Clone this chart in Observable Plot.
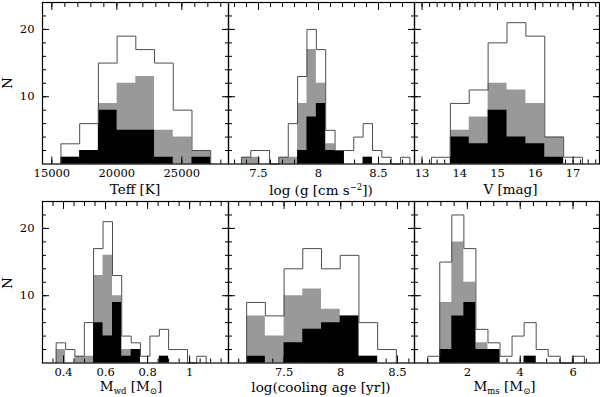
<!DOCTYPE html>
<html><head><meta charset="utf-8">
<script src="https://cdn.jsdelivr.net/npm/d3@7"></script>
<script src="https://cdn.jsdelivr.net/npm/@observablehq/plot@0.6"></script>
<style>
body{margin:0;background:#fff;}
#chart{position:relative;width:600px;height:397px;overflow:hidden;font-family:"DejaVu Serif",serif;color:#000;background:#fff;}
.ttl{position:absolute;transform:translate(-50%,-50%);font-size:13.5px;white-space:nowrap;line-height:1;}
.ttl sub{font-size:8.5px;vertical-align:-3px;}
.ttl sup{font-size:8.5px;vertical-align:5px;}
.nlab{position:absolute;transform:translate(-50%,-50%) rotate(-90deg);font-size:13.5px;line-height:1;}
</style></head><body><div id="chart"></div>
<script>
// ---- data ----
const teffEdges = [15700, 17140, 18580, 20020, 21460, 22900, 24340, 25780, 27220];
const teffAll   = [3, 6, 15, 19, 17, 15, 8, 2];
const teffGray  = [1, 2, 9, 12, 13, 5, 4, 2];
const teffBlack = [1, 2, 8, 5, 5, 1, 0, 1];
const teffTicks = [15000, 20000, 25000];

const loggEdges = [7.358, 7.436, 7.514, 7.592, 7.670, 7.748, 7.826, 7.904, 7.982, 8.060, 8.138, 8.216, 8.294, 8.372, 8.450, 8.528, 8.606, 8.684, 8.762];
const loggAll   = [1, 2, 2, 0, 1, 6, 13, 20, 17, 5, 2, 2, 4, 6, 2, 1, 0, 1];
const loggGray  = [1, 1, 0, 0, 1, 1, 9, 17, 12, 3, 2, 0, 0, 1, 0, 0, 0, 0];
const loggBlack = [0, 0, 0, 0, 0, 0, 2, 7, 9, 2, 2, 0, 0, 1, 0, 0, 0, 0];
const loggTicks = [7.5, 8, 8.5];

const vEdges = [13.25, 13.75, 14.25, 14.75, 15.25, 15.75, 16.25, 16.75, 17.25];
const vAll   = [1, 9, 11, 18, 21, 19, 4, 1];
const vGray  = [0, 5, 7, 12, 11, 9, 4, 0];
const vBlack = [0, 4, 3, 8, 4, 3, 1, 0];
const vTicks = [13, 14, 15, 16, 17];

const mwdEdges = [0.365, 0.410, 0.454, 0.499, 0.543, 0.588, 0.633, 0.677, 0.722, 0.766, 0.811, 0.856, 0.900, 0.945, 0.990, 1.034, 1.079];
const mwdAll   = [3, 2, 1, 6, 17, 21, 13, 4, 3, 1, 4, 5, 2, 2, 0, 1];
const mwdGray  = [2, 0, 1, 1, 13, 16, 10, 2, 2, 0, 0, 1, 0, 0, 0, 0];
const mwdBlack = [0, 0, 0, 0, 6, 4, 9, 1, 2, 0, 0, 1, 0, 0, 0, 0];
const mwdTicks = [0.4, 0.6, 0.8, 1];

const ageEdges = [7.17, 7.335, 7.5, 7.665, 7.83, 7.995, 8.16, 8.325, 8.49];
const ageAll   = [9, 7, 14, 17, 14, 16, 6, 2];
const ageGray  = [7, 4, 10, 11, 8, 7, 1, 0];
const ageBlack = [1, 0, 3, 5, 6, 7, 1, 0];
const ageTicks = [7.5, 8, 8.5];

const mmsEdges = [0.5, 0.956, 1.412, 1.868, 2.324, 2.78, 3.236, 3.692, 4.148, 4.604, 5.06, 5.516, 5.972, 6.428];
const mmsAll   = [1, 15, 22, 17, 5, 3, 1, 4, 6, 2, 1, 0, 1];
const mmsGray  = [0, 9, 18, 12, 3, 2, 0, 0, 1, 0, 0, 0, 0];
const mmsBlack = [0, 2, 7, 9, 2, 2, 0, 0, 1, 0, 0, 0, 0];
const mmsTicks = [2, 4, 6];

const nTicks = [10, 20];
const titles = [
  "Teff [K]",
  "log (g [cm s<sup>−2</sup>])",
  "V [mag]",
  "M<sub>wd</sub> [M<sub>⊙</sub>]",
  "log(cooling age [yr])",
  "M<sub>ms</sub> [M<sub>⊙</sub>]"
];
const yLabel = "N";

// ---- layout ----
const cols = [{left: 42, width: 186}, {left: 228, width: 186}, {left: 414, width: 185}];
const rows = [{top: 2, height: 161.5}, {top: 200.5, height: 161.5}];

const panels = [
  {edges: teffEdges, all: teffAll, gray: teffGray, black: teffBlack, ticks: teffTicks, domain: [14280, 28590], minor: 1000, col: 0, row: 0, title: titles[0], tdx: 0},
  {edges: loggEdges, all: loggAll, gray: loggGray, black: loggBlack, ticks: loggTicks, domain: [7.25, 8.8], minor: 0.1, col: 1, row: 0, title: titles[1], tdx: 0},
  {edges: vEdges, all: vAll, gray: vGray, black: vBlack, ticks: vTicks, domain: [12.8, 17.7], minor: 0.2, col: 2, row: 0, title: titles[2], tdx: 4},
  {edges: mwdEdges, all: mwdAll, gray: mwdGray, black: mwdBlack, ticks: mwdTicks, domain: [0.3, 1.185], minor: 0.05, col: 0, row: 1, title: titles[3], tdx: -4},
  {edges: ageEdges, all: ageAll, gray: ageGray, black: ageBlack, ticks: ageTicks, domain: [7.01, 8.65], minor: 0.1, col: 1, row: 1, title: titles[4], tdx: 0},
  {edges: mmsEdges, all: mmsAll, gray: mmsGray, black: mmsBlack, ticks: mmsTicks, domain: [0, 7], minor: 0.5, col: 2, row: 1, title: titles[5], tdx: -2}
];

const chart = document.getElementById("chart");

// step profile: one point per bin start, plus the closing edge
function steps(edges, counts) {
  const pts = counts.map((n, i) => ({x: edges[i], n}));
  pts.push({x: edges[edges.length - 1], n: counts[counts.length - 1]});
  return pts;
}

for (const p of panels) {
  const c = cols[p.col], r = rows[p.row];
  const outline = [{x: p.edges[0], n: 0}, ...p.all.map((n, i) => ({x: p.edges[i], n})), {x: p.edges[p.edges.length - 1], n: 0}];
  const [d0, d1] = p.domain;
  const minor = d3.range(Math.ceil(d0 / p.minor - 1e-9), Math.floor(d1 / p.minor + 1e-9) + 1).map(k => +(k * p.minor).toFixed(6));
  const yMinor = d3.range(2, 24, 2);
  const t = {fill: "none", label: null, stroke: "#000", strokeWidth: 1};
  const svg = Plot.plot({
    width: c.width, height: r.height, margin: 0,
    x: {domain: p.domain},
    y: {domain: [0, 24]},
    style: {overflow: "visible", background: "transparent", fontFamily: "DejaVu Serif", fontSize: "11.5px", color: "#000"},
    marks: [
      Plot.areaY(steps(p.edges, p.gray), {x: "x", y: "n", curve: "step-after", fill: "#999999"}),
      Plot.areaY(steps(p.edges, p.black), {x: "x", y: "n", curve: "step-after", fill: "#000000"}),
      Plot.line(outline, {x: "x", y: "n", curve: "step-after", stroke: "#4d4d4d", strokeWidth: 1}),
      Plot.axisX(p.ticks, {anchor: "bottom", tickSize: -7, ...t}),
      Plot.axisX(minor, {anchor: "bottom", tickSize: -4, ...t}),
      Plot.axisX(p.ticks, {anchor: "top", tickSize: -7, ...t}),
      Plot.axisX(minor, {anchor: "top", tickSize: -4, ...t}),
      Plot.axisY(nTicks, {anchor: "left", tickSize: -7, ...t}),
      Plot.axisY(yMinor, {anchor: "left", tickSize: -4, ...t}),
      Plot.axisY(nTicks, {anchor: "right", tickSize: -7, ...t}),
      Plot.axisY(yMinor, {anchor: "right", tickSize: -4, ...t}),
      Plot.axisX(p.ticks, {anchor: "bottom", tickSize: 0, tickPadding: 5, tickFormat: d => String(d), label: null}),
      p.col === 0 ? Plot.axisY(nTicks, {anchor: "left", tickSize: 0, tickPadding: 8, label: null}) : null,
      Plot.frame({stroke: "#000", strokeWidth: 1.2})
    ]
  });
  svg.style.position = "absolute";
  svg.style.left = c.left + "px";
  svg.style.top = r.top + "px";
  svg.style.maxWidth = "none";
  chart.appendChild(svg);

  const tt = document.createElement("div");
  tt.className = "ttl";
  tt.innerHTML = p.title;
  tt.style.left = (c.left + c.width / 2 + p.tdx) + "px";
  tt.style.top = (p.row === 0 ? 190 : 387.5) + "px";
  chart.appendChild(tt);
}

for (const cy of [83, 283]) {
  const n = document.createElement("div");
  n.className = "nlab";
  n.textContent = yLabel;
  n.style.left = "8px";
  n.style.top = cy + "px";
  chart.appendChild(n);
}
</script></body></html>
